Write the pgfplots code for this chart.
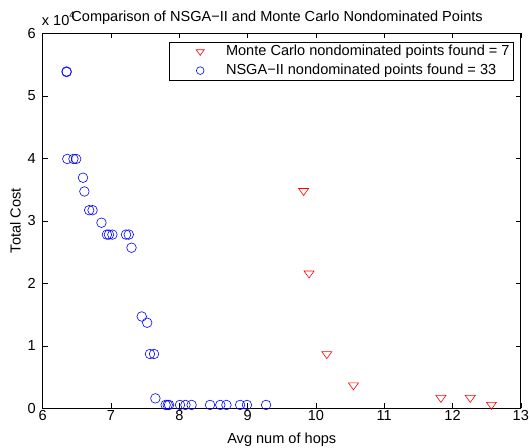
\documentclass[border=0pt]{standalone}
\usepackage{fontspec}
\setmainfont{Liberation Sans}
\usepackage{pgfplots}
\pgfplotsset{compat=1.18}

\pgfplotstableread{
x y
6.35 53800
6.35 53900
6.36 39900
6.45 39900
6.49 39900
6.59 36900
6.61 34700
6.68 31700
6.73 31700
6.86 29700
6.94 27800
6.97 27800
7.02 27800
7.22 27800
7.26 27800
7.30 25700
7.45 14700
7.53 13700
7.57 8700
7.63 8700
7.65 1600
7.80 550
7.83 550
7.85 550
8.01 550
8.09 550
8.18 550
8.45 550
8.60 550
8.69 550
8.89 550
8.99 550
9.27 550
}\nsga

\pgfplotstableread{
x y
9.82 34800
9.90 21600
10.16 8700
10.55 3700
11.83 1700
12.26 1700
12.57 600
}\mc

\begin{document}
\fontsize{14.55bp}{17bp}\selectfont
\begin{tikzpicture}[font=\fontsize{14.55bp}{17bp}\selectfont]
\begin{axis}[
  scale only axis, width=478bp, height=375bp,
  xmin=6, xmax=13, ymin=0, ymax=60000,
  xtick={6,7,...,13},
  ytick={0,10000,20000,30000,40000,50000,60000},
  yticklabels={0,1,2,3,4,5,6},
  scaled y ticks=false,
  /pgf/number format/assume math mode=true,
  tick align=inside, major tick length=5bp,
  tick style={black, line width=0.6bp},
  axis line style={black, line width=0.9bp},
  xticklabel style={anchor=north, inner sep=0bp, yshift=-2bp, font=\fontsize{14.55bp}{17bp}\selectfont},
  yticklabel style={anchor=east, inner sep=0bp, xshift=-6.7bp, font=\fontsize{14.55bp}{17bp}\selectfont},
  xlabel={Avg num of hops},
  ylabel={Total Cost},
  xlabel style={at={(axis description cs:0.5,-0.0941)}, anchor=base, inner sep=0bp, font=\fontsize{14.55bp}{17bp}\selectfont},
  ylabel style={at={(axis description cs:-0.046,0.5)}, anchor=base, inner sep=0bp, font=\fontsize{14.55bp}{17bp}\selectfont},
  title={Comparison of NSGA−II and Monte Carlo Nondominated Points},
  every axis title shift=0pt,
  title style={at={(axis description cs:0.4902,1.0309)}, anchor=base, inner sep=0bp, font=\fontsize{14.55bp}{17bp}\selectfont},
  legend cell align=left,
  legend style={at={(1,1)}, anchor=north east, xshift=-6.8bp, yshift=-8.4bp,
    draw=black, line width=0.8bp, inner xsep=2bp, inner ysep=0bp,
    font=\fontsize{14.55bp}{17bp}\selectfont,
    nodes={inner xsep=2bp, inner ysep=2bp, text height=11bp, text depth=4bp}, row sep=0bp},
  legend image code/.code={\path (0bp,0bp) (51.7bp,0bp); \begin{scope}[every mark/.append style={scale=0.8}]\draw[#1] plot coordinates {(28.3bp,0bp)};\end{scope}},
]
\addplot[only marks, color=red, mark=triangle, mark size=5.8bp,
  mark options={rotate=180, yscale=0.8, line width=0.6bp}] table {\mc};
\addlegendentry{Monte Carlo nondominated points found = 7}
\addplot[only marks, color=blue, mark=o, mark size=4.8bp,
  mark options={line width=0.6bp}] table {\nsga};
\addlegendentry{NSGA−II nondominated points found = 33}
\end{axis}
\node[anchor=base west, inner sep=0pt] at ([xshift=-1bp,yshift=7.3bp]current axis.north west) {x 10\raisebox{7.7bp}{\fontsize{9.5bp}{9.5bp}\selectfont 4}};
\pgfresetboundingbox
\path ([xshift=-42.7bp,yshift=-39.3bp]current axis.south west) rectangle ([xshift=10.2bp,yshift=33.3bp]current axis.north east);
\end{tikzpicture}
\end{document}
